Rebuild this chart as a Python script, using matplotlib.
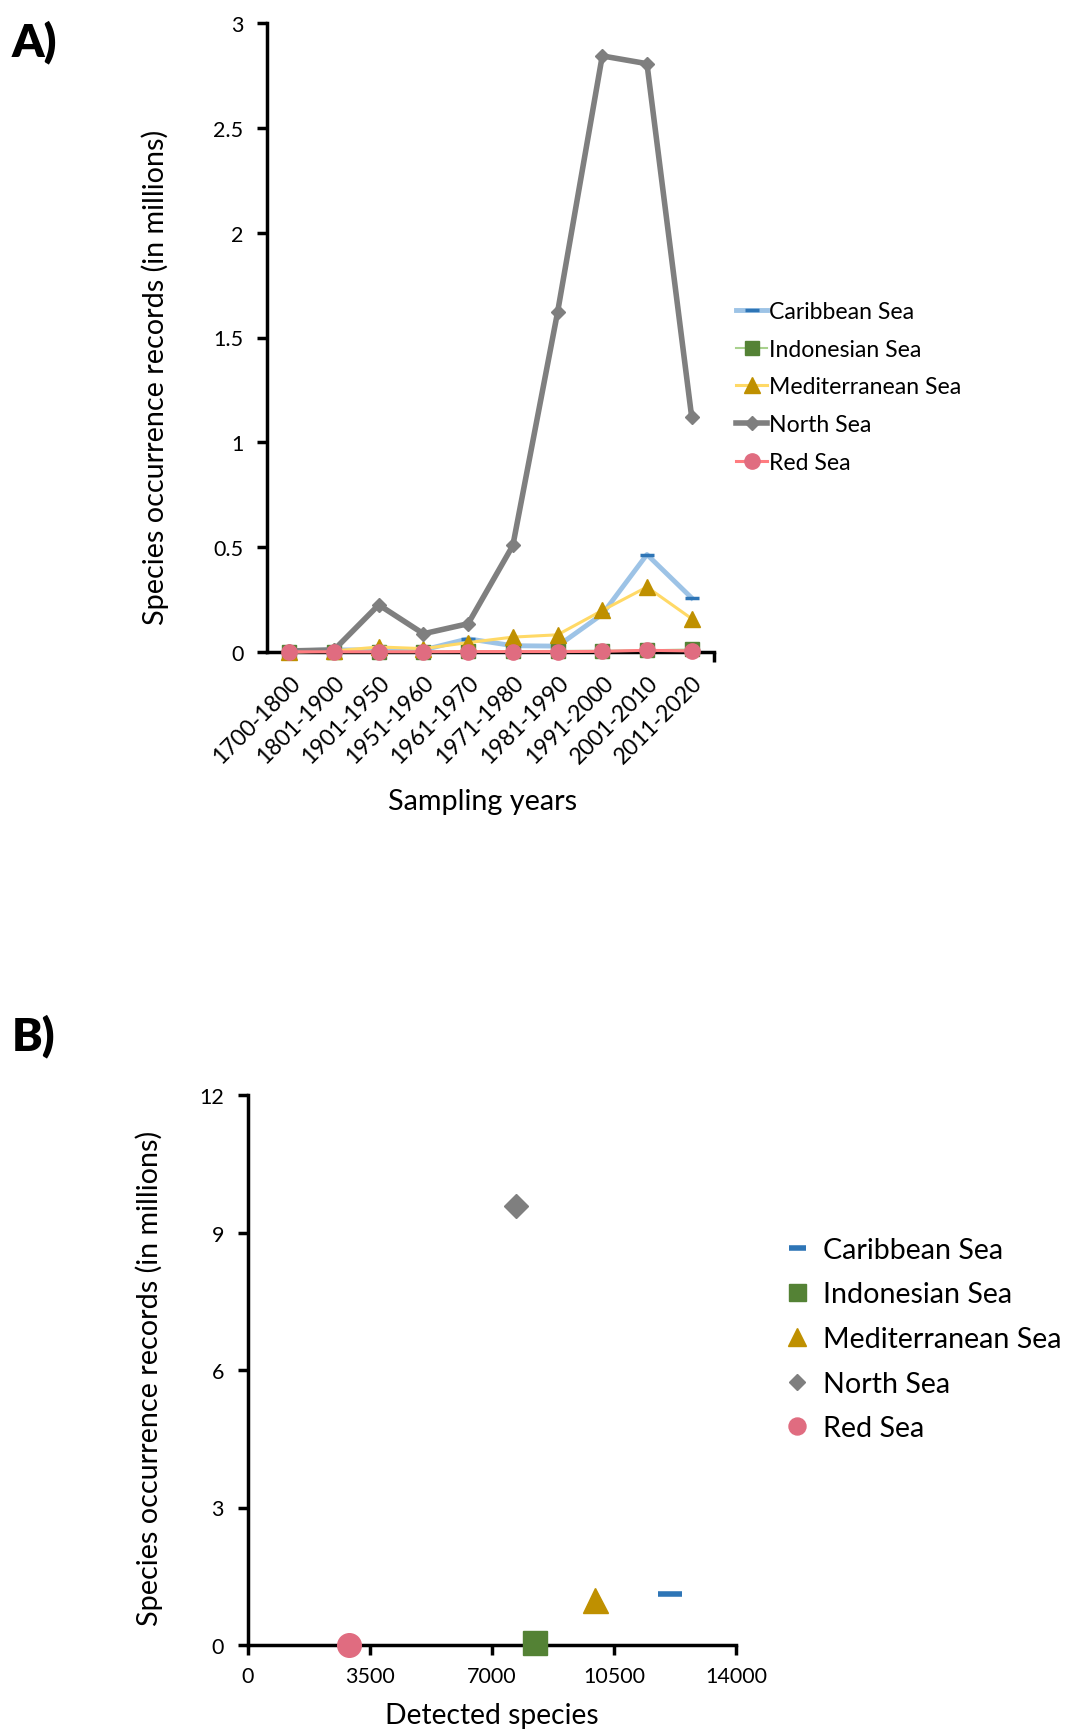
import matplotlib
matplotlib.use("Agg")
import matplotlib.pyplot as plt

plt.rcParams['font.family'] = ['Lato', 'DejaVu Sans']

# ---- panel A data: records per decade (millions) ----
periods = ["1700-1800", "1801-1900", "1901-1950", "1951-1960", "1961-1970",
           "1971-1980", "1981-1990", "1991-2000", "2001-2010", "2011-2020"]
caribbean = [0.005, 0.01, 0.01, 0.01, 0.063, 0.03, 0.028, 0.18, 0.465, 0.258]
indonesian = [0.001, 0.001, 0.002, 0.002, 0.003, 0.004, 0.005, 0.006, 0.008, 0.012]
mediterranean = [0.0, 0.005, 0.024, 0.016, 0.045, 0.071, 0.082, 0.198, 0.31, 0.159]
north = [0.005, 0.01, 0.225, 0.087, 0.135, 0.508, 1.62, 2.843, 2.806, 1.122]
red = [0.001, 0.001, 0.001, 0.001, 0.002, 0.002, 0.002, 0.003, 0.008, 0.005]

# ---- panel B data: detected species vs total records ----
seas = ["Caribbean Sea", "Indonesian Sea", "Mediterranean Sea", "North Sea", "Red Sea"]
detected = [12100, 8235, 9950, 7700, 2915]
total_records = [1.11, 0.05, 0.99, 9.57, 0.0]

fig = plt.figure(figsize=(10.65, 17.33), dpi=100)
W, H = 1065, 1733

def box(l, t, r, b):
    return [l / W, 1 - b / H, (r - l) / W, (b - t) / H]

# ---------------- A ----------------
ax = fig.add_axes(box(267, 24, 714, 653))
x = list(range(len(periods)))
styles = [
    ("Caribbean Sea", caribbean, "#9DC3E6", 3.5, "_", "#2E75B6", 10, 2.5),
    ("Indonesian Sea", indonesian, "#A9D18E", 1.5, "s", "#548235", 9.5, 1),
    ("Mediterranean Sea", mediterranean, "#FFD966", 2.2, "^", "#BF9000", 11, 1),
    ("North Sea", north, "#7F7F7F", 4, "D", "#7F7F7F", 7, 1),
    ("Red Sea", red, "#FF7C80", 2.2, "o", "#E06C80", 11, 1),
]
for i, (name, vals, lc, lw, mk, mc, ms, mew) in enumerate(styles):
    ax.plot(x, vals, color=lc, lw=lw, marker=mk, markerfacecolor=mc,
            markeredgecolor=mc, markersize=ms, markeredgewidth=mew,
            label=name, zorder=3 + i, clip_on=False)

ax.set_xlim(-0.5, 9.5)
ax.set_ylim(0, 3)
ax.set_yticks([0, 0.5, 1, 1.5, 2, 2.5, 3])
ax.set_yticklabels(["0", "0.5", "1", "1.5", "2", "2.5", "3"], fontsize=15.5)
ax.set_xticks(x)
ax.set_xticklabels(periods, rotation=45, ha="right", va="top",
                   rotation_mode="anchor", fontsize=16.5)
ax.tick_params(axis="x", length=0, pad=14)
ax.set_xticks([9.5], minor=True)
ax.tick_params(axis="x", which="minor", length=7, width=2.5, direction="out")
ax.tick_params(axis="y", length=7, width=2.5, direction="out", pad=10)
for s in ["top", "right"]:
    ax.spines[s].set_visible(False)
for s in ["left", "bottom"]:
    ax.spines[s].set_linewidth(2.5)
ax.set_ylabel("Species occurrence records (in millions)", fontsize=20.7, va="center")
ax.yaxis.set_label_coords((155 - 267) / 447, (653 - 377) / 629)
ax.set_xlabel("Sampling years", fontsize=20.7, va="center")
ax.xaxis.set_label_coords((483 - 267) / 447, -(802 - 653) / 629)

fig.legend(*ax.get_legend_handles_labels(), loc="center left",
           bbox_to_anchor=(736 / W, 1 - 388 / H), frameon=False, fontsize=16.6,
           handlelength=1.35, handletextpad=0.1, labelspacing=0.72,
           borderpad=0, borderaxespad=0)

fig.text(12 / W, 1 - 42 / H, "A)", fontsize=33, fontweight="heavy", va="center")

# ---------------- B ----------------
bx = fig.add_axes(box(247.5, 1096, 736, 1646))
b_styles = [("_", "#2E75B6", 17, 4), ("s", "#548235", 17, 1), ("^", "#BF9000", 18, 1),
            ("D", "#7F7F7F", 12, 1), ("o", "#E06C80", 17, 1)]
for name, dx, dy, (mk, c, ms, mew) in zip(seas, detected, total_records, b_styles):
    bx.plot([dx], [dy], linestyle="none", marker=mk, color=c, markersize=ms,
            markeredgewidth=mew, label=name, clip_on=False, zorder=3)

bx.set_xlim(0, 14000)
bx.set_ylim(0, 12)
bx.set_xticks([0, 3500, 7000, 10500, 14000])
bx.set_yticks([0, 3, 6, 9, 12])
bx.tick_params(labelsize=15.5, length=7, width=2.5, direction="out")
bx.tick_params(axis="y", pad=10)
bx.tick_params(axis="x", pad=8)
for s in ["top", "right"]:
    bx.spines[s].set_visible(False)
for s in ["left", "bottom"]:
    bx.spines[s].set_linewidth(2.5)
bx.set_ylabel("Species occurrence records (in millions)", fontsize=20.7, va="center")
bx.yaxis.set_label_coords((149 - 247.5) / 488.5, (1646 - 1378) / 550)
bx.set_xlabel("Detected species", fontsize=20.3, va="center")
bx.xaxis.set_label_coords((492 - 247.5) / 488.5, -(1716 - 1646) / 550)

fig.legend(*bx.get_legend_handles_labels(), loc="center left",
           bbox_to_anchor=(784 / W, 1 - 1340 / H), frameon=False, fontsize=20.6,
           handlelength=0.9, handletextpad=0.45, labelspacing=0.65,
           markerscale=0.72, borderpad=0, borderaxespad=0)

fig.text(12 / W, 1 - 1036 / H, "B)", fontsize=33, fontweight="heavy", va="center")

fig.savefig("out.png", dpi=100)
plt.close(fig)
